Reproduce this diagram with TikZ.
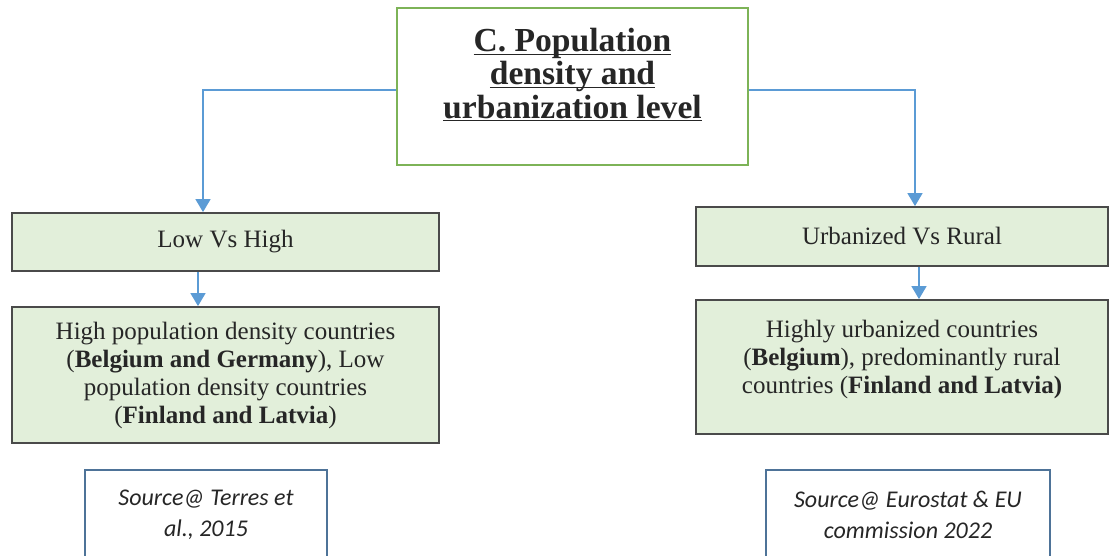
\documentclass[tikz,border=0pt]{standalone}
\usepackage{fontspec}
\setmainfont{Liberation Serif}
\newfontfamily\srcfont{Carlito}
\usepackage{xcolor}
\usepackage{tikz}
\usetikzlibrary{arrows.meta}

\definecolor{framegreen}{HTML}{7DB357}
\definecolor{boxfill}{HTML}{E2EFDA}
\definecolor{boxline}{HTML}{4A4A4A}
\definecolor{srcline}{HTML}{4E7398}
\definecolor{arrblue}{HTML}{5B9BD5}

\newcommand{\titleline}[1]{\underline{\smash{#1}}}

\tikzset{
  titlebox/.style={draw=framegreen,line width=1.4pt,fill=white,
    minimum width=175.5pt,minimum height=78.5pt,align=center,
    font=\fontsize{16.8}{16.6}\selectfont\bfseries,text=black!85},
  greenbox/.style={draw=boxline,line width=0.9pt,fill=boxfill,align=center,
    font=\fontsize{12.5}{14}\selectfont,text=black!85},
  srcbox/.style={draw=srcline,line width=0.9pt,minimum height=45pt,align=center,
    font=\srcfont\itshape\fontsize{12}{15.5}\selectfont,text=black!85},
  arr/.style={draw=arrblue,line width=0.75pt,-{Triangle[width=7.5pt,length=6.5pt]}}
}

\begin{document}
\begin{tikzpicture}[x=0.5pt,y=-0.5pt]
                \path[use as bounding box,clip] (0,0) rectangle (1110,556);
                \node[titlebox] (title) at (572.5,86.5)
                {\titleline{C. Population}\\ \titleline{density and}\\
                 \titleline{urbanization level}\\[-15pt] \mbox{}};
                \node[greenbox,minimum width=213.5pt,minimum height=29pt]
                (low) at (225.5,242) {Low Vs High};
                \node[greenbox,minimum width=213.5pt,minimum height=68pt]
                (lowtext) at (225.5,375)
                {High population density countries\\
                 (\textbf{Belgium and Germany}), Low\\
                 population density countries\\
                 (\textbf{Finland and Latvia})};
                \node[greenbox,minimum width=206pt,minimum height=29.5pt]
                (urban) at (902,236.5) {Urbanized Vs Rural};
                \node[greenbox,minimum width=206pt,minimum height=67pt]
                (urbantext) at (902,367)
                {Highly urbanized countries\\
                 (\textbf{Belgium}), predominantly rural\\
                 countries (\textbf{Finland and Latvia)}\\[-4pt] \mbox{}};
                \node[srcbox,minimum width=121pt] (srcleft) at (206,515)
                {Source@ Terres et\\ al., 2015};
                \node[srcbox,minimum width=142pt] (srcright) at (908,515)
                {Source@ Eurostat \& EU\\ commission 2022};
                \draw[arr] ([yshift=-1.75pt]title.west) -| ([xshift=-11.25pt]low.north);
                \draw[arr] ([yshift=-1.75pt]title.east) -| ([xshift=6.5pt]urban.north);
                \draw[arr] ([xshift=-13.75pt]low.south) -- ([xshift=-13.75pt]lowtext.north);
                \draw[arr] ([xshift=8.5pt]urban.south) -- ([xshift=8.5pt]urbantext.north);
            \end{tikzpicture}
\end{document}
